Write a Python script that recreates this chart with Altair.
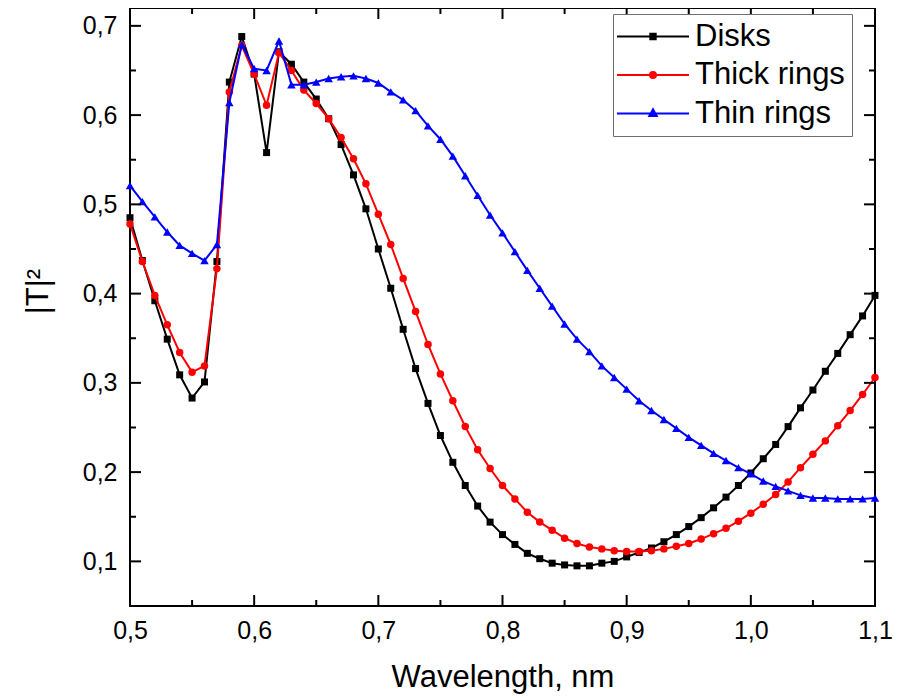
import altair as alt
import pandas as pd

wavelength = [0.50, 0.51, 0.52, 0.53, 0.54, 0.55, 0.56, 0.57, 0.58, 0.59,
              0.60, 0.61, 0.62, 0.63, 0.64, 0.65, 0.66, 0.67, 0.68, 0.69,
              0.70, 0.71, 0.72, 0.73, 0.74, 0.75, 0.76, 0.77, 0.78, 0.79,
              0.80, 0.81, 0.82, 0.83, 0.84, 0.85, 0.86, 0.87, 0.88, 0.89,
              0.90, 0.91, 0.92, 0.93, 0.94, 0.95, 0.96, 0.97, 0.98, 0.99,
              1.00, 1.01, 1.02, 1.03, 1.04, 1.05, 1.06, 1.07, 1.08, 1.09, 1.10]

disks = [0.485, 0.437, 0.392, 0.349, 0.309, 0.283, 0.301, 0.436, 0.637, 0.688,
         0.646, 0.558, 0.671, 0.657, 0.637, 0.618, 0.596, 0.567, 0.533, 0.495,
         0.450, 0.406, 0.360, 0.316, 0.277, 0.241, 0.211, 0.185, 0.162, 0.144,
         0.130, 0.119, 0.109, 0.103, 0.098, 0.096, 0.095, 0.095, 0.098, 0.100,
         0.105, 0.110, 0.115, 0.122, 0.130, 0.139, 0.149, 0.160, 0.172, 0.185,
         0.199, 0.215, 0.231, 0.251, 0.272, 0.292, 0.313, 0.333, 0.354, 0.375, 0.398]

thick_rings = [0.478, 0.436, 0.398, 0.365, 0.334, 0.312, 0.319, 0.428, 0.626, 0.678,
               0.646, 0.611, 0.670, 0.650, 0.628, 0.613, 0.596, 0.575, 0.551, 0.523,
               0.489, 0.455, 0.417, 0.380, 0.343, 0.310, 0.280, 0.251, 0.225, 0.204,
               0.185, 0.170, 0.155, 0.144, 0.135, 0.126, 0.120, 0.116, 0.114, 0.112,
               0.111, 0.111, 0.112, 0.114, 0.117, 0.120, 0.125, 0.131, 0.137, 0.145,
               0.154, 0.164, 0.175, 0.189, 0.205, 0.220, 0.235, 0.252, 0.269, 0.287, 0.306]

thin_rings = [0.521, 0.503, 0.486, 0.469, 0.454, 0.445, 0.437, 0.455, 0.614, 0.679,
              0.652, 0.650, 0.683, 0.634, 0.634, 0.637, 0.641, 0.643, 0.644, 0.641,
              0.636, 0.626, 0.617, 0.605, 0.588, 0.573, 0.554, 0.532, 0.510, 0.488,
              0.468, 0.447, 0.426, 0.406, 0.386, 0.366, 0.349, 0.335, 0.319, 0.306,
              0.293, 0.280, 0.269, 0.259, 0.249, 0.239, 0.230, 0.221, 0.213, 0.205,
              0.198, 0.190, 0.184, 0.179, 0.174, 0.171, 0.171, 0.170, 0.170, 0.170, 0.171]

series_names = ["Disks", "Thick rings", "Thin rings"]
series_colors = ["#000000", "#ff0000", "#0000ff"]
point_shapes = ["square", "circle", "triangle-up"]
point_sizes = [49, 56, 72]
legend_paths = [
    "M-6,0H6M-0.45,-0.45H0.45V0.45H-0.45Z",
    "M-6,0H6M0.5,0A0.5,0.5 0 1,1 -0.5,0A0.5,0.5 0 1,1 0.5,0Z",
    "M-6,0H6M0,-0.7L0.62,0.42L-0.62,0.42Z",
]

x_domain = [0.5, 1.1]
y_domain = [0.05, 0.72]
x_major = [0.5, 0.6, 0.7, 0.8, 0.9, 1.0, 1.1]
x_minor = [0.55, 0.65, 0.75, 0.85, 0.95, 1.05]
y_major = [0.1, 0.2, 0.3, 0.4, 0.5, 0.6, 0.7]
y_minor = [0.15, 0.25, 0.35, 0.45, 0.55, 0.65]

rows = []
for name, vals in zip(series_names, [disks, thick_rings, thin_rings]):
    for w, v in zip(wavelength, vals):
        rows.append({"wavelength": w, "T2": v, "series": name})
df = pd.DataFrame(rows)

# tick tables: each tick value on both edges of the frame
tick_rows = []
for kind, xs, ys in [("major", x_major, y_major), ("minor", x_minor, y_minor)]:
    for v in xs:
        tick_rows.append({"wavelength": v, "T2": y_domain[0], "kind": kind, "edge": "bottom"})
        tick_rows.append({"wavelength": v, "T2": y_domain[1], "kind": kind, "edge": "top"})
    for v in ys:
        tick_rows.append({"wavelength": x_domain[0], "T2": v, "kind": kind, "edge": "left"})
        tick_rows.append({"wavelength": x_domain[1], "T2": v, "kind": kind, "edge": "right"})
ticks = pd.DataFrame(tick_rows)

W, H = 745, 598
xscale = alt.Scale(domain=x_domain, nice=False, zero=False)
yscale = alt.Scale(domain=y_domain, nice=False, zero=False)
label_expr = "replace(format(datum.value, '.1f'), '.', ',')"

x_main = alt.Axis(orient="bottom", values=x_major, labelExpr=label_expr, ticks=False,
                  tickSize=0, domain=False, grid=False, labelFontSize=25,
                  labelPadding=12, labelColor="black", labelFlush=False,
                  labelOverlap=False, title="Wavelength, nm", titleFontSize=31,
                  titleFontWeight="normal", titleColor="black", titleY=80,
                  titleBaseline="alphabetic")
y_main = alt.Axis(orient="left", values=y_major, labelExpr=label_expr, ticks=False,
                  tickSize=0, domain=False, grid=False, labelFontSize=25,
                  labelPadding=13, labelColor="black", labelFlush=False,
                  labelOverlap=False, title="|T|²", titleFontSize=31,
                  titleFontWeight="normal", titleColor="black", titleX=-92,
                  titleY=283, titleAngle=270, titleAlign="center",
                  titleBaseline="middle")

X = alt.X("wavelength:Q", scale=xscale, axis=x_main)
Y = alt.Y("T2:Q", scale=yscale, axis=y_main)

base = alt.Chart(df)
layers = []
for i, name in enumerate(series_names):
    sub = base.transform_filter(alt.datum.series == name)
    line = sub.mark_line(color=series_colors[i], strokeWidth=2).encode(x=X, y=Y)
    pts = sub.mark_point(filled=True, shape=point_shapes[i], size=point_sizes[i],
                         color=series_colors[i], opacity=1).encode(x=X, y=Y)
    layers += [line, pts]

# inward ticks on all four sides
tick_base = alt.Chart(ticks)
for kind, length in [("major", 11), ("minor", 6)]:
    for edge, sign in [("bottom", -1), ("top", 1)]:
        layers.append(
            tick_base.transform_filter((alt.datum.kind == kind) & (alt.datum.edge == edge))
            .mark_rule(color="black", strokeWidth=2, y2Offset=sign * length)
            .encode(x=X, y=Y, y2=alt.Y2("T2:Q"))
        )
    for edge, sign in [("left", 1), ("right", -1)]:
        layers.append(
            tick_base.transform_filter((alt.datum.kind == kind) & (alt.datum.edge == edge))
            .mark_rule(color="black", strokeWidth=2, x2Offset=sign * length)
            .encode(x=X, y=Y, x2=alt.X2("wavelength:Q"))
        )


def make_legend():
    return alt.Legend(title=None, orient="none", legendX=483, legendY=6,
                      symbolSize=144, symbolStrokeWidth=2, symbolOpacity=1,
                      symbolOffset=17.5, labelOffset=26.5, labelFontSize=31,
                      labelColor="black", labelLimit=400, padding=7, rowPadding=6.5,
                      strokeColor="#6e6e6e", fillColor="white")


carrier = base.mark_point(filled=True, opacity=0).encode(
    x=X, y=Y,
    fill=alt.Fill("series:N", scale=alt.Scale(domain=series_names, range=series_colors),
                  legend=make_legend()),
    stroke=alt.Stroke("series:N", scale=alt.Scale(domain=series_names, range=series_colors),
                      legend=make_legend()),
    shape=alt.Shape("series:N", scale=alt.Scale(domain=series_names, range=legend_paths),
                    legend=make_legend()),
)
layers.append(carrier)

chart = alt.layer(*layers).properties(
    width=W, height=H,
    autosize=alt.AutoSizeParams(type="none"),
    padding={"left": 122, "top": 0, "right": 20, "bottom": 90},
    background="white",
).configure(font="Liberation Sans").configure_view(
    stroke="black", strokeWidth=2
).configure_axis(grid=False)

chart.save("out.html", embed_options={"renderer": "svg", "actions": False})
